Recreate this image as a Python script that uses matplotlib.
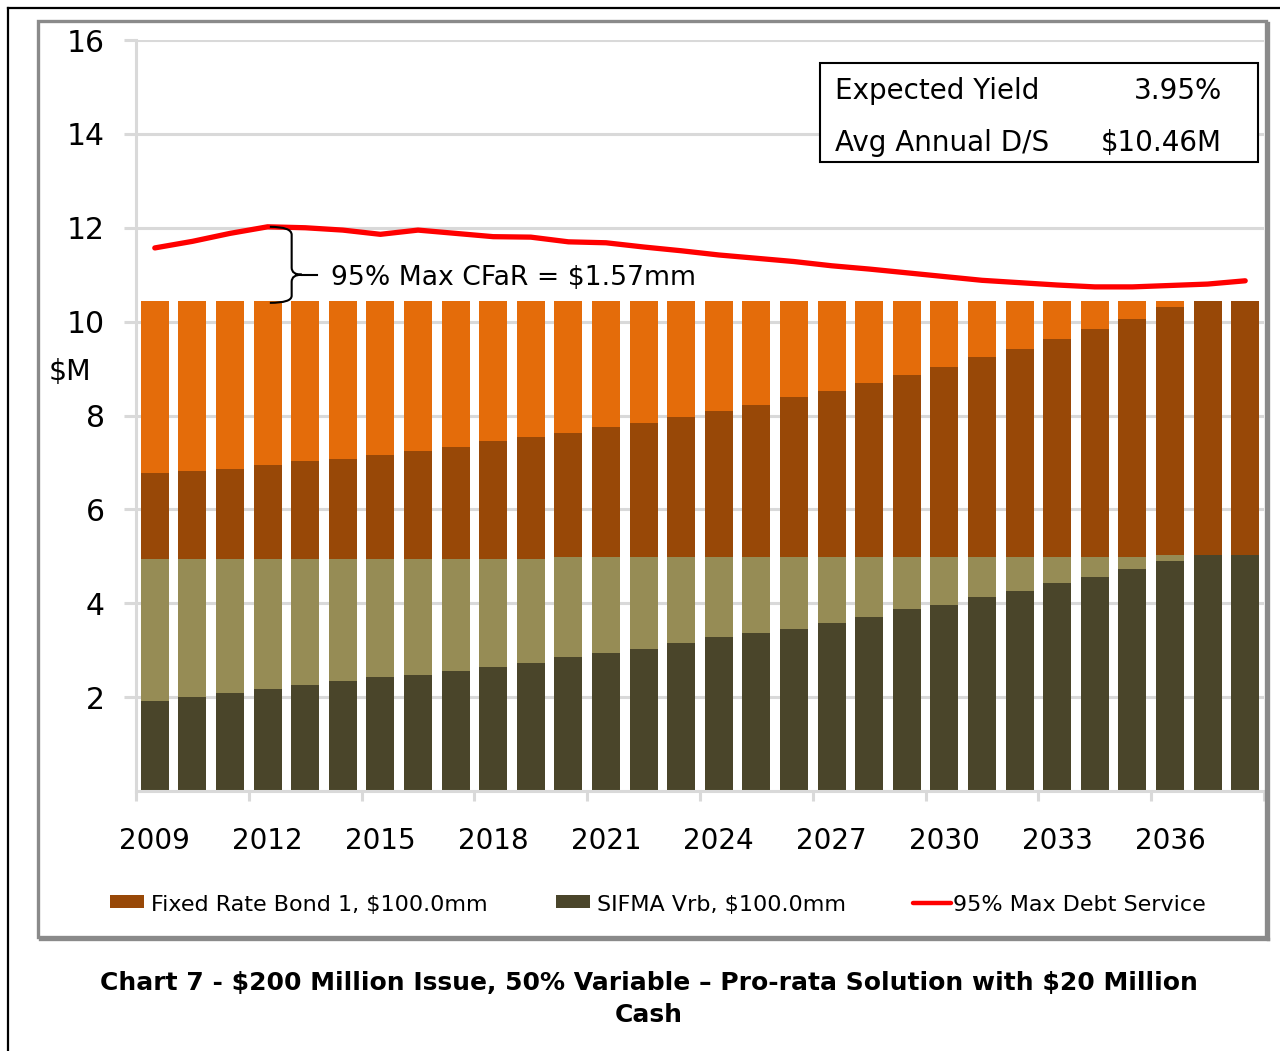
import numpy as np
import matplotlib
matplotlib.use("Agg")
import matplotlib.pyplot as plt
from matplotlib.patches import Rectangle, PathPatch
from matplotlib.lines import Line2D
from matplotlib.path import Path

# ---------------- data ----------------
years = list(range(2009, 2039))
sifma_principal = [1.92, 2.00, 2.09, 2.17, 2.26, 2.34, 2.43, 2.47, 2.56, 2.64,
                   2.73, 2.86, 2.94, 3.03, 3.15, 3.28, 3.37, 3.45, 3.58, 3.71,
                   3.88, 3.96, 4.13, 4.26, 4.43, 4.56, 4.73, 4.90, 5.03, 5.03]
sifma_interest = [3.02, 2.94, 2.85, 2.77, 2.68, 2.60, 2.51, 2.47, 2.38, 2.30,
                  2.21, 2.13, 2.05, 1.96, 1.84, 1.71, 1.62, 1.54, 1.41, 1.28,
                  1.11, 1.03, 0.86, 0.73, 0.56, 0.43, 0.26, 0.13, 0.00, 0.00]
fixed_principal = [1.84, 1.88, 1.92, 2.01, 2.09, 2.13, 2.22, 2.30, 2.39, 2.52,
                   2.60, 2.64, 2.77, 2.85, 2.98, 3.11, 3.23, 3.41, 3.53, 3.70,
                   3.87, 4.04, 4.26, 4.43, 4.64, 4.85, 5.07, 5.28, 5.41, 5.41]
fixed_interest = [3.66, 3.62, 3.58, 3.49, 3.41, 3.37, 3.28, 3.20, 3.11, 2.98,
                  2.90, 2.81, 2.68, 2.60, 2.47, 2.34, 2.22, 2.04, 1.92, 1.75,
                  1.58, 1.41, 1.19, 1.02, 0.81, 0.60, 0.38, 0.13, 0.00, 0.00]
max_debt_service = [11.57, 11.71, 11.88, 12.02, 12.00, 11.95, 11.86, 11.95, 11.88, 11.81,
                    11.80, 11.70, 11.68, 11.59, 11.51, 11.42, 11.35, 11.28, 11.19, 11.12,
                    11.04, 10.96, 10.88, 10.83, 10.78, 10.74, 10.74, 10.77, 10.80, 10.87]
y_ticks = [2, 4, 6, 8, 10, 12, 14, 16]
label_years = [2009, 2012, 2015, 2018, 2021, 2024, 2027, 2030, 2033, 2036]

expected_yield = "3.95%"
avg_annual_ds = "$10.46M"
cfar_text = "95% Max CFaR = $1.57mm"
legend_labels = ["Fixed Rate Bond 1, $100.0mm", "SIFMA Vrb, $100.0mm", "95% Max Debt Service"]
title_lines = ["Chart 7 - $200 Million Issue, 50% Variable \u2013 Pro-rata Solution with $20 Million",
               "Cash"]

# ---------------- style ----------------
C_ORANGE = "#e46c0a"
C_BROWN = "#984807"
C_LOLIVE = "#968c55"
C_DOLIVE = "#4a452a"
C_RED = "#ff0000"
C_GRID = "#d9d9d9"

plt.rcParams["font.family"] = ["DejaVu Sans"]
plt.rcParams["text.parse_math"] = False

W, H = 1280, 1051
fig = plt.figure(figsize=(W / 100, H / 100), dpi=100)


def fx(px):
    return px / W


def fy(py):
    return 1 - py / H


# outer page lines (top and left)
fig.add_artist(Line2D([fx(8), fx(8)], [fy(8), fy(1051)], color="black", lw=1.6))
fig.add_artist(Line2D([fx(8), fx(1280)], [fy(8), fy(8)], color="black", lw=1.6))

# chart frame
fig.add_artist(Rectangle((fx(38), fy(937)), fx(1266) - fx(38), fy(21) - fy(937),
                         fill=False, edgecolor="#8a8a8a", lw=2.4))
fig.add_artist(Line2D([fx(40), fx(1268)], [fy(938.5), fy(938.5)], color="#8a8a8a", lw=2.4))
fig.add_artist(Line2D([fx(1267.5), fx(1267.5)], [fy(23), fy(939)], color="#8a8a8a", lw=2.4))

ax = fig.add_axes([fx(136), fy(791), fx(1264) - fx(136), fy(40) - fy(791)])
ax.set_xlim(2008.5, 2038.5)
ax.set_ylim(0, 16)
ax.set_axisbelow(True)

x = np.array(years, dtype=float)
bw = 0.74
b1 = np.array(sifma_principal)
b2 = b1 + np.array(sifma_interest)
b3 = b2 + np.array(fixed_principal)
ax.bar(x, sifma_principal, width=bw, color=C_DOLIVE, zorder=2)
ax.bar(x, sifma_interest, width=bw, bottom=b1, color=C_LOLIVE, zorder=2)
ax.bar(x, fixed_principal, width=bw, bottom=b2, color=C_BROWN, zorder=2)
ax.bar(x, fixed_interest, width=bw, bottom=b3, color=C_ORANGE, zorder=2)
ax.plot(x, max_debt_service, color=C_RED, lw=3.8, solid_capstyle="round",
        solid_joinstyle="round", zorder=4)

# grid & spines
for s in ["top", "right"]:
    ax.spines[s].set_visible(False)
for s in ["left", "bottom"]:
    ax.spines[s].set_color(C_GRID)
    ax.spines[s].set_linewidth(2.2)
ax.yaxis.grid(True, color=C_GRID, lw=2.2)
ax.xaxis.grid(False)

ax.set_yticks(y_ticks)
ax.set_yticklabels([str(v) for v in y_ticks], fontsize=21.5)
ax.tick_params(axis="y", length=8.5, width=2.2, color=C_GRID, pad=14)

ax.set_xticks([2008.5 + 3 * i for i in range(11)])
ax.set_xticklabels([])
ax.tick_params(axis="x", which="major", length=7.5, width=2.2, color=C_GRID)
ax.set_xticks(label_years, minor=True)
ax.set_xticklabels([str(v) for v in label_years], minor=True, fontsize=20)
ax.tick_params(axis="x", which="minor", length=0, pad=26)

fig.text(fx(70), fy(372), "$M", fontsize=20.5, ha="center", va="center")

# brace annotation
top_y = max_debt_service[3]
bot_y = 10.40
tip_y = 11.0
xv = 2012.64
verts = [(2012.06, top_y), (xv, top_y), (xv, top_y - 0.17),
         (xv, tip_y + 0.15), (xv, tip_y), (2012.91, tip_y),
         (xv, tip_y), (xv, tip_y - 0.15),
         (xv, bot_y + 0.15), (xv, bot_y), (2012.06, bot_y)]
codes = [Path.MOVETO, Path.CURVE3, Path.CURVE3,
         Path.LINETO, Path.CURVE3, Path.CURVE3,
         Path.CURVE3, Path.CURVE3,
         Path.LINETO, Path.CURVE3, Path.CURVE3]
ax.add_patch(PathPatch(Path(verts, codes), fill=False, edgecolor="black", lw=1.5, zorder=5,
                       clip_on=False))
ax.plot([2012.91, 2013.31], [tip_y, tip_y], color="black", lw=1.5, zorder=5)
ax.text(2013.68, tip_y, cfar_text, fontsize=19.2, ha="left", va="center_baseline", zorder=5)

# yield box
fig.add_artist(Rectangle((fx(820), fy(162)), fx(1258) - fx(820), fy(63) - fy(162),
                         fill=True, facecolor="white", edgecolor="black", lw=1.5, zorder=10))
fig.text(fx(835), fy(99), "Expected Yield", fontsize=20, ha="left", va="baseline", zorder=11)
fig.text(fx(1222), fy(99), expected_yield, fontsize=20, ha="right", va="baseline", zorder=11)
fig.text(fx(835), fy(151), "Avg Annual D/S", fontsize=20, ha="left", va="baseline", zorder=11)
fig.text(fx(1222), fy(151), avg_annual_ds, fontsize=20, ha="right", va="baseline", zorder=11)

# legend (drawn manually)
fig.add_artist(Rectangle((fx(110), fy(908)), fx(144) - fx(110), fy(895) - fy(908),
                         facecolor=C_BROWN, edgecolor="none"))
fig.text(fx(151), fy(911), legend_labels[0], fontsize=16, ha="left", va="baseline")
fig.add_artist(Rectangle((fx(556), fy(908)), fx(590) - fx(556), fy(895) - fy(908),
                         facecolor=C_DOLIVE, edgecolor="none"))
fig.text(fx(597), fy(911), legend_labels[1], fontsize=16, ha="left", va="baseline")
fig.add_artist(Line2D([fx(913), fx(951)], [fy(902.5), fy(902.5)], color=C_RED, lw=3.2,
                      solid_capstyle="round"))
fig.text(fx(953), fy(911), legend_labels[2], fontsize=16, ha="left", va="baseline")

# title
fig.text(fx(649), fy(990), title_lines[0], fontsize=18, fontweight="bold",
         ha="center", va="baseline")
fig.text(fx(649), fy(1022), title_lines[1], fontsize=18, fontweight="bold",
         ha="center", va="baseline")

fig.savefig("out.png", dpi=100)
